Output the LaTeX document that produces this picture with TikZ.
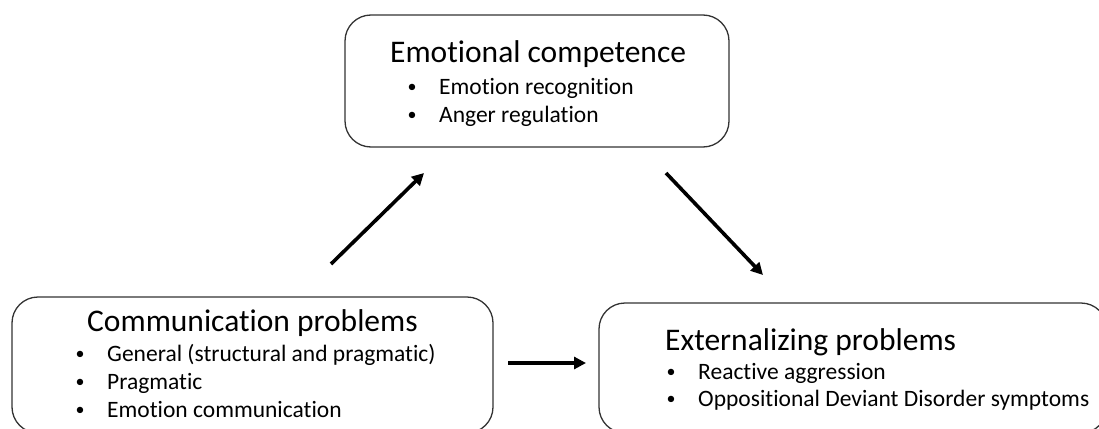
\documentclass[tikz,border=0pt]{standalone}
\usepackage{fontspec}
\setmainfont{Carlito}[RawFeature={-liga;-clig}]
\usepackage{tikz}
\usetikzlibrary{arrows.meta,positioning}
\tikzset{
  factbox/.style={ draw=black!80, line width=1.3pt, rounded corners=26pt, inner sep=0pt }
}
\tikzset{
  headtxt/.style={ anchor=base west, font=\fontsize{31.5}{36}\selectfont, inner sep=0pt }
}
\tikzset{
  itemtxt/.style={ anchor=base west, font=\fontsize{23.5}{28}\selectfont, inner sep=0pt }
}
\tikzset{
  pathway/.style={ line width=3.6pt, -{Triangle[length=12pt,width=12pt]} }
}
\newcommand{\bulitem}[1]{\makebox[0pt][c]{\raisebox{1.8pt}{\fontsize{18}{18}\selectfont\textbullet}}\hspace{27pt}#1}

\begin{document}
\begin{tikzpicture}[x=1pt, y=-1pt]
      \useasboundingbox (0,0) rectangle (1099,428);
      % boxes
      \node[factbox, minimum width=384pt, minimum height=132pt] (emo) at (537,81) {};
      \node[factbox, minimum width=481pt, minimum height=136pt] (comm) at (252.5,365) {};
      \node[factbox, minimum width=508pt, minimum height=130pt] (ext) at (853,368) {};
      % texts
      \node[headtxt] (emoT) at (390,63) {Emotional competence};
      \node[itemtxt] (emoA) at (412,94) {\bulitem{Emotion recognition}};
      \node[itemtxt] (emoB) at (412,122) {\bulitem{Anger regulation}};
      \node[headtxt] (commT) at (87,331) {Communication problems};
      \node[itemtxt] (commA) at (80,361) {\bulitem{General (structural and pragmatic)}};
      \node[itemtxt] (commB) at (80,389) {\bulitem{Pragmatic}};
      \node[itemtxt] (commC) at (80,417) {\bulitem{Emotion communication}};
      \node[headtxt] (extT) at (665,350) {Externalizing problems};
      \node[itemtxt] (extA) at (671,379) {\bulitem{Reactive aggression}};
      \node[itemtxt] (extB) at (671,406) {\bulitem{Oppositional Deviant Disorder symptoms}};
      % arrow ends
      \coordinate (up0) at (331,264);
      \coordinate (up1) at (424,173);
      \coordinate (dn0) at (666,173);
      \coordinate (dn1) at (763,275);
      \coordinate (hz0) at (508,363);
      \coordinate (hz1) at (586,363);
      \draw[pathway] (up0) -- (up1);
      \draw[pathway] (dn0) -- (dn1);
      \draw[pathway] (hz0) -- (hz1);
\end{tikzpicture}
\end{document}
